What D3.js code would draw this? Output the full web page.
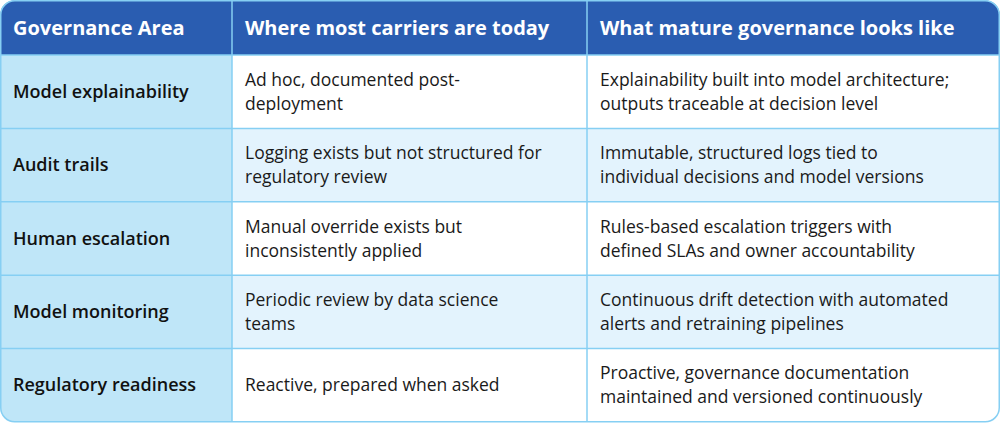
<!DOCTYPE html>
<html><head><meta charset="utf-8">
<script src="https://cdn.jsdelivr.net/npm/d3@7"></script>
<style>body{margin:0;background:#fff}</style></head>
<body><svg id="c" width="1000" height="423"></svg>
<script>
const headers = ["Governance Area","Where most carriers are today","What mature governance looks like"];
const areas = ["Model explainability","Audit trails","Human escalation","Model monitoring","Regulatory readiness"];
const today = [
 ["Ad hoc, documented post-","deployment"],
 ["Logging exists but not structured for","regulatory review"],
 ["Manual override exists but","inconsistently applied"],
 ["Periodic review by data science","teams"],
 ["Reactive, prepared when asked"]];
const mature = [
 ["Explainability built into model architecture;","outputs traceable at decision level"],
 ["Immutable, structured logs tied to","individual decisions and model versions"],
 ["Rules-based escalation triggers with","defined SLAs and owner accountability"],
 ["Continuous drift detection with automated","alerts and retraining pipelines"],
 ["Proactive, governance documentation","maintained and versioned continuously"]];

const svg = d3.select("#c");
const font = "'Open Sans', sans-serif";
const x = d3.scaleOrdinal().domain([0,1,2]).range([0,232,587]);
const widths = [232,355,413];
const headH = 55;
const y = d3.scaleBand().domain(d3.range(areas.length)).range([headH,422]);
const border = "#86cff3";
svg.append("defs").append("clipPath").attr("id","rc").append("rect")
  .attr("x",0.5).attr("y",0.5).attr("width",999).attr("height",421.5).attr("rx",14);
const g = svg.append("g").attr("clip-path","url(#rc)");
// header
g.append("rect").attr("x",0).attr("y",0).attr("width",1000).attr("height",headH).attr("fill","#2a5db1");
headers.forEach((h,i)=>{
  g.append("text").attr("x",x(i)+13).attr("y",headH/2+7).text(h)
   .attr("font-family",font).attr("font-weight",700).attr("font-size",20).attr("fill","#fff");
});
areas.forEach((a,r)=>{
  const y0=y(r), hh=y.bandwidth();
  const rowFill = r%2===0 ? "#ffffff" : "#e3f3fd";
  g.append("rect").attr("x",0).attr("y",y0).attr("width",232).attr("height",hh).attr("fill","#bfe6f8");
  g.append("rect").attr("x",232).attr("y",y0).attr("width",768).attr("height",hh).attr("fill",rowFill);
  g.append("text").attr("x",13).attr("y",y0+hh/2+6).text(a)
   .attr("font-family",font).attr("font-weight",600).attr("font-size",18).attr("fill","#111");
  [today[r],mature[r]].forEach((lines,ci)=>{
    const n=lines.length, lh=24;
    const t=g.append("text").attr("font-family",font).attr("font-size",17.5).attr("fill","#1a1a1a");
    lines.forEach((l,k)=>{
      t.append("tspan").attr("x",x(ci+1)+13).attr("y",y0+hh/2+6+(k-(n-1)/2)*lh).text(l);
    });
  });
  g.append("line").attr("x1",0).attr("x2",1000).attr("y1",y0).attr("y2",y0).attr("stroke",border).attr("stroke-width",1.5);
});
[232,587].forEach(v=>g.append("line").attr("x1",v).attr("x2",v).attr("y1",0).attr("y2",423).attr("stroke",border).attr("stroke-width",1.5));
svg.append("rect").attr("x",0.75).attr("y",0.75).attr("width",998.5).attr("height",421).attr("rx",14)
  .attr("fill","none").attr("stroke",border).attr("stroke-width",1.5);
</script></body></html>
